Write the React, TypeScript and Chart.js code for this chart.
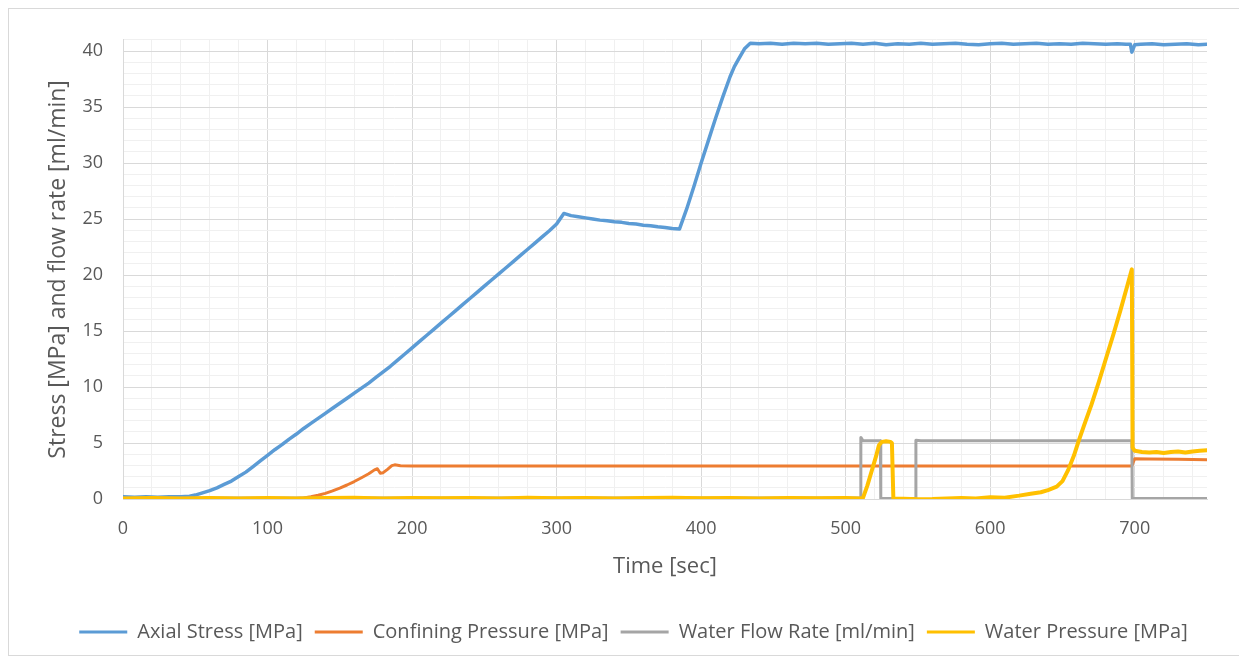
import React, { useEffect, useRef } from "react";
import { Chart, registerables } from "chart.js";

Chart.register(...registerables);

// ---- Data ----
const axialTime = [
  0, 8, 16, 24, 32, 40, 46, 50, 55, 60, 65, 70, 75, 80, 85, 90, 95, 100, 105, 110, 115, 120, 125, 130, 135, 140,
  145, 150, 155, 160, 165, 170, 175, 180, 185, 190, 195, 200, 205, 210, 215, 220, 225, 230, 235, 240, 245, 250,
  255, 260, 265, 270, 275, 280, 285, 290, 295, 300, 305, 310, 315, 320, 325, 330, 335, 340, 345, 350, 355, 360,
  365, 370, 375, 380, 385, 390, 395, 400, 405, 410, 415, 420, 423, 426, 430, 434, 440, 448, 456, 464, 472, 480,
  488, 496, 504, 512, 520, 528, 536, 544, 552, 560, 568, 576, 584, 592, 600, 608, 616, 624, 632, 640, 648, 656,
  664, 672, 680, 688, 694, 697, 698, 700, 704, 712, 720, 728, 736, 744, 750,
];
const axialStress = [
  0.2, 0.15, 0.2, 0.15, 0.2, 0.2, 0.25, 0.35, 0.55, 0.75, 1.0, 1.3, 1.6, 2.0, 2.4, 2.9, 3.4, 3.9, 4.4, 4.85, 5.35,
  5.8, 6.3, 6.75, 7.2, 7.65, 8.1, 8.55, 9.0, 9.45, 9.9, 10.35, 10.85, 11.35, 11.85, 12.4, 12.95, 13.5, 14.05,
  14.6, 15.15, 15.7, 16.25, 16.8, 17.35, 17.9, 18.45, 19.0, 19.55, 20.1, 20.65, 21.2, 21.75, 22.3, 22.85, 23.4,
  23.95, 24.55, 25.5, 25.3, 25.2, 25.1, 25.0, 24.9, 24.85, 24.75, 24.7, 24.6, 24.55, 24.45, 24.4, 24.3, 24.25,
  24.15, 24.1, 25.9, 27.9, 30.0, 32.0, 34.0, 35.9, 37.7, 38.6, 39.3, 40.2, 40.7, 40.65, 40.7, 40.6, 40.7, 40.65,
  40.7, 40.6, 40.65, 40.7, 40.6, 40.7, 40.55, 40.65, 40.6, 40.7, 40.6, 40.65, 40.7, 40.6, 40.55, 40.65, 40.7,
  40.6, 40.65, 40.7, 40.6, 40.65, 40.6, 40.7, 40.65, 40.6, 40.65, 40.6, 40.6, 39.9, 40.55, 40.6, 40.65, 40.55,
  40.6, 40.65, 40.55, 40.6,
];

const confiningTime = [
  0, 40, 80, 120, 125, 130, 135, 140, 145, 150, 155, 160, 165, 170, 174, 176, 178, 180, 183, 186, 188, 192, 200,
  260, 320, 380, 440, 500, 560, 620, 680, 698, 699, 700, 710, 730, 750,
];
const confiningPressure = [
  0.05, 0.05, 0.05, 0.05, 0.1, 0.2, 0.33, 0.5, 0.72, 0.97, 1.25, 1.56, 1.9, 2.25, 2.6, 2.7, 2.3, 2.35, 2.65, 2.98,
  3.05, 2.97, 2.95, 2.95, 2.95, 2.95, 2.95, 2.95, 2.95, 2.95, 2.95, 2.95, 3.3, 3.6, 3.58, 3.55, 3.5,
];

const flowTime = [0, 100, 200, 300, 400, 500, 510, 510.5, 512, 524, 524.3, 548.5, 548.6, 552, 600, 650, 698, 698.3, 700, 750];
const flowRate = [0.08, 0.1, 0.08, 0.1, 0.08, 0.1, 0.1, 5.5, 5.2, 5.2, 0.05, 0.05, 5.25, 5.2, 5.2, 5.2, 5.2, 0.05, 0.05, 0.05];

const waterTime = [
  0, 20, 40, 60, 80, 100, 120, 140, 160, 180, 200, 220, 240, 260, 280, 300, 320, 340, 360, 380, 400, 420, 440,
  460, 480, 500, 510, 512, 515, 518, 521, 523, 525, 528, 531, 532, 533, 540, 550, 560, 570, 580, 590, 600, 610,
  620, 628, 635, 640, 646, 650, 654, 658, 661, 665, 670, 675, 680, 685, 690, 695, 698, 698.5, 700, 705, 710, 715,
  720, 725, 730, 735, 740, 745, 750,
];
const waterPressure = [
  0.05, 0.1, 0.05, 0.1, 0.05, 0.1, 0.05, 0.08, 0.12, 0.05, 0.1, 0.06, 0.1, 0.05, 0.12, 0.06, 0.1, 0.05, 0.08,
  0.12, 0.06, 0.1, 0.05, 0.1, 0.06, 0.1, 0.05, 0.1, 1.2, 2.5, 3.8, 4.8, 5.1, 5.15, 5.1, 5.0, 0.05, 0.02, -0.02,
  0.0, 0.05, 0.1, 0.05, 0.15, 0.12, 0.3, 0.47, 0.6, 0.8, 1.1, 1.6, 2.6, 3.9, 5.1, 6.6, 8.4, 10.4, 12.5, 14.6,
  16.8, 19.1, 20.5, 4.6, 4.3, 4.2, 4.15, 4.2, 4.1, 4.2, 4.25, 4.15, 4.25, 4.3, 4.35,
];

const seriesNames = [
  "Axial Stress [MPa]",
  "Confining Pressure [MPa]",
  "Water Flow Rate [ml/min]",
  "Water Pressure [MPa]",
];
const seriesColors = ["#5B9BD5", "#ED7D31", "#A5A5A5", "#FFC000"];

const xMin = 0;
const xMax = 750;
const xMajorStep = 100;
const xMinorStep = 20;
const yMin = 0;
const yMax = 41;
const yMajorStep = 5;
const yMinorStep = 1;

const xTitle = "Time [sec]";
const yTitle = "Stress [MPa] and flow rate [ml/min]";

const FONT = "'Open Sans', 'Noto Sans', sans-serif";
const TEXT = "#595959";

function toPoints(ts: number[], vs: number[]) {
  return ts.map((t, i) => ({ x: t, y: vs[i] }));
}

function stepValues(min: number, max: number, step: number) {
  const out: number[] = [];
  for (let v = min; v < max + 1e-9; v += step) out.push(Math.round(v * 1000) / 1000);
  return out;
}

const legendShift = {
  id: "legendShift",
  afterLayout(chart: any) {
    if (chart.legend) {
      chart.legend.left += 8;
      chart.legend.right += 8;
    }
  },
};

export default function App() {
  const ref = useRef<HTMLCanvasElement | null>(null);

  useEffect(() => {
    if (!ref.current) return;
    const xGrid = stepValues(xMin, xMax - 1, xMinorStep);
    const yGrid = stepValues(yMin, yMax, yMinorStep);
    const pairs = [
      [axialTime, axialStress],
      [confiningTime, confiningPressure],
      [flowTime, flowRate],
      [waterTime, waterPressure],
    ];
    const widths = [3.5, 3, 3, 4];
    const chart = new Chart(ref.current, {
      type: "line",
      data: {
        datasets: pairs.map((p, i) => ({
          label: seriesNames[i],
          data: toPoints(p[0] as number[], p[1] as number[]),
          borderColor: seriesColors[i],
          backgroundColor: seriesColors[i],
          borderWidth: widths[i],
          pointRadius: 0,
          tension: 0,
          fill: false,
          borderJoinStyle: "round" as const,
          borderCapStyle: "round" as const,
          order: 3 - i,
        })),
      },
      plugins: [legendShift],
      options: {
        responsive: false,
        animation: false,
        events: [],
        layout: { padding: { left: 35, right: 33, top: 26, bottom: 3 } },
        plugins: {
          tooltip: { enabled: false },
          legend: {
            position: "bottom",
            labels: {
              font: { family: FONT, size: 20 },
              color: TEXT,
              boxWidth: 48,
              boxHeight: 3,
              padding: 12,
              sort: (a: any, b: any) => a.datasetIndex - b.datasetIndex,
              generateLabels: (c: any) =>
                Chart.defaults.plugins.legend.labels.generateLabels(c).map((it: any) => ({
                  ...it,
                  fillStyle: seriesColors[it.datasetIndex],
                  strokeStyle: seriesColors[it.datasetIndex],
                  lineWidth: 0,
                })),
            },
          },
        },
        scales: {
          x: {
            type: "linear",
            min: xMin,
            max: xMax,
            afterBuildTicks: (s: any) => {
              s.ticks = xGrid.map((v) => ({ value: v }));
            },
            afterFit: (s: any) => {
              s.height = 111;
            },
            ticks: {
              autoSkip: false,
              maxRotation: 0,
              padding: 19,
              color: TEXT,
              font: { family: FONT, size: 18 },
              callback: (v: any) => (Number(v) % xMajorStep === 0 ? String(v) : ""),
            },
            grid: {
              drawTicks: false,
              color: (c: any) => (c.tick && c.tick.value % xMajorStep === 0 ? "#d9d9d9" : "#f0f0f0"),
              lineWidth: 1,
            },
            border: { display: true, color: "#d9d9d9" },
            title: {
              display: true,
              text: xTitle,
              color: TEXT,
              font: { family: FONT, size: 22 },
              padding: { top: 0, bottom: 30 },
            },
          },
          y: {
            type: "linear",
            min: yMin,
            max: yMax,
            afterBuildTicks: (s: any) => {
              s.ticks = yGrid.map((v) => ({ value: v }));
            },
            afterFit: (s: any) => {
              s.width = 79;
            },
            ticks: {
              autoSkip: false,
              padding: 20,
              color: TEXT,
              font: { family: FONT, size: 18 },
              callback: (v: any) => (Number(v) % yMajorStep === 0 ? String(v) : ""),
            },
            grid: {
              drawTicks: false,
              color: (c: any) => (c.tick && c.tick.value % yMajorStep === 0 ? "#d9d9d9" : "#f0f0f0"),
              lineWidth: 1,
            },
            border: { display: true, color: "#d9d9d9" },
            title: {
              display: true,
              text: yTitle,
              color: TEXT,
              font: { family: FONT, size: 23 },
              padding: { top: 1, bottom: 0 },
            },
          },
        },
      },
    });
    return () => chart.destroy();
  }, []);

  return (
    <div
      style={{
        width: 1233,
        height: 648,
        border: "1px solid #d9d9d9",
        boxSizing: "border-box",
        background: "#fff",
      }}
    >
      <canvas ref={ref} width={1231} height={646} style={{ display: "block", width: 1231, height: 646 }} />
    </div>
  );
}
